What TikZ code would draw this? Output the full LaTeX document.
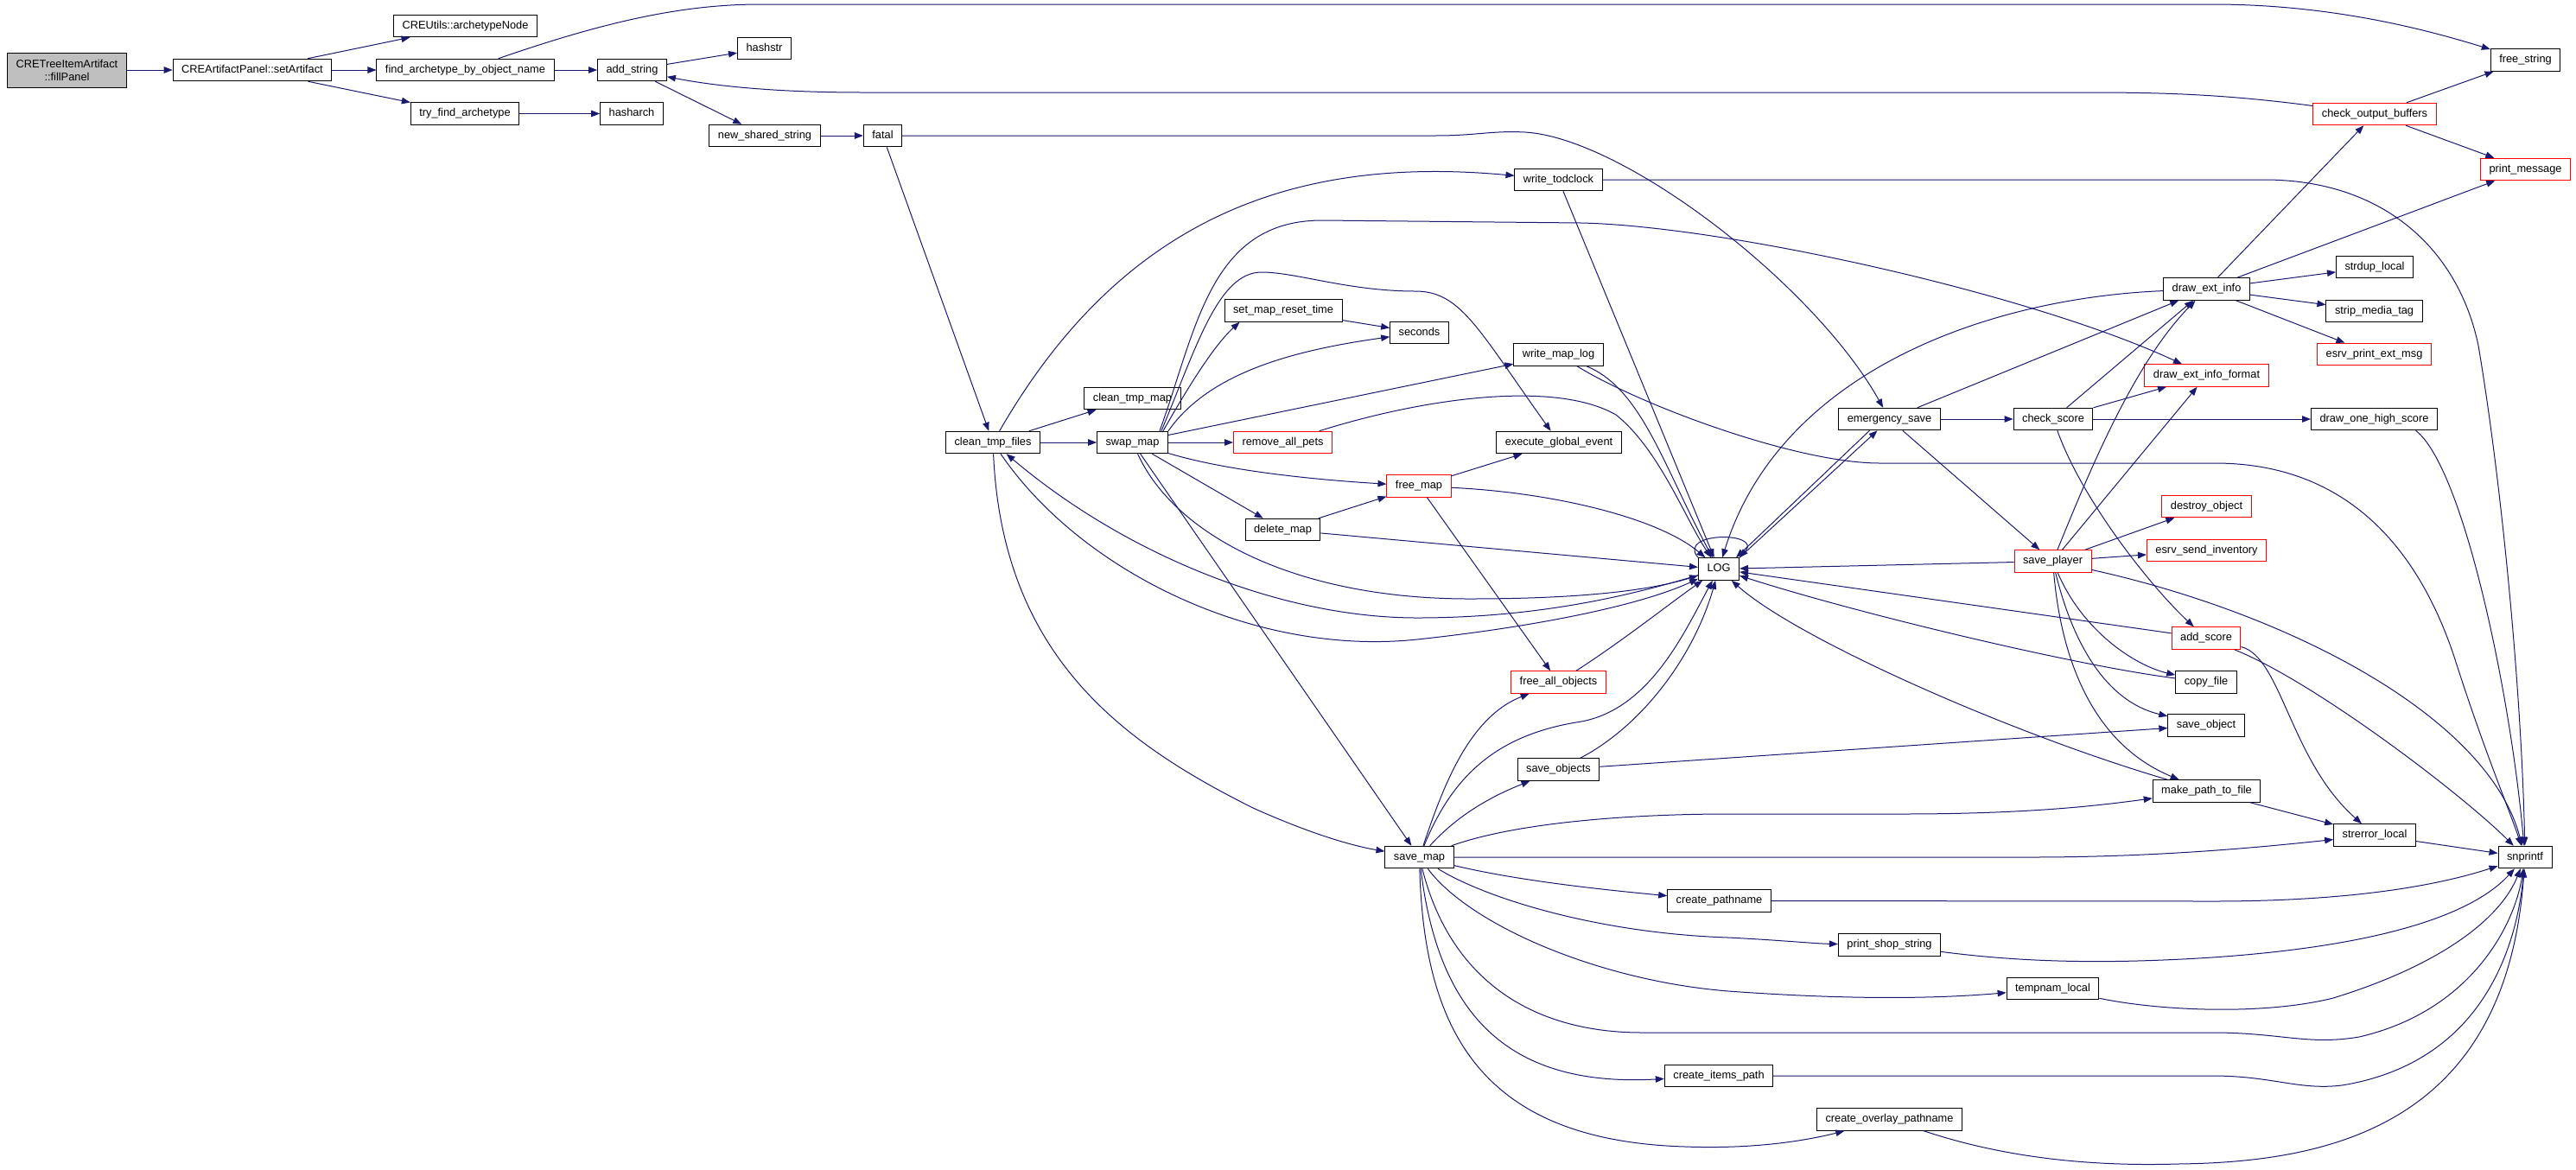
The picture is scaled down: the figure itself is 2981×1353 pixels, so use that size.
\documentclass[tikz,border=0pt]{standalone}
\usepackage{fontspec}
\setmainfont{Liberation Sans}
\usetikzlibrary{arrows.meta}
\definecolor{edgeblue}{HTML}{191970}
\tikzset{
  fn/.style={draw=black, line width=1pt, fill=white, font=\fontsize{12.8}{15}\selectfont,
    inner xsep=10pt, inner ysep=0pt, minimum height=25.5pt, text height=9.2pt, text depth=2.8pt},
  fnred/.style={fn, draw=red},
  mainfn/.style={draw=black, line width=1pt, fill=gray!50, font=\fontsize{12.8}{15}\selectfont,
    align=center, inner xsep=10pt, inner ysep=4pt, minimum height=40pt},
  call/.style={draw=edgeblue, line width=1pt, -{Triangle[length=10pt,width=7.5pt]}},
}
\begin{document}
\begin{tikzpicture}[x=1pt,y=-1pt]
\useasboundingbox (0,0) rectangle (2981,1353);
\node[mainfn] (fillpanel) at (77.5,81) {CRETreeItemArtifact\\::fillPanel};
\node[fn] (setart) at (292,81) {CREArtifactPanel::setArtifact};
\node[fn] (archnode) at (538.5,30) {CREUtils::archetypeNode};
\node[fn] (findarch) at (538.5,81) {find\_archetype\_by\_object\_name};
\node[fn] (tryfind) at (538,131.5) {try\_find\_archetype};
\node[fn] (addstr) at (731.5,81) {add\_string};
\node[fn] (hasharch) at (731,131.5) {hasharch};
\node[fn] (hashstr) at (884.5,56) {hashstr};
\node[fn] (newshared) at (885,157) {new\_shared\_string};
\node[fn] (fatal) at (1021.5,157) {fatal};
\node[fn] (cleanfiles) at (1149,512) {clean\_tmp\_files};
\node[fn] (cleanmap) at (1310.5,461) {clean\_tmp\_map};
\node[fn] (swapmap) at (1310.5,512) {swap\_map};
\node[fn] (setreset) at (1485,359.5) {set\_map\_reset\_time};
\node[fnred] (removepets) at (1484.5,512) {remove\_all\_pets};
\node[fn] (delmap) at (1484.5,613) {delete\_map};
\node[fn] (seconds) at (1642.5,385) {seconds};
\node[fnred] (freemap) at (1642,562.5) {free\_map};
\node[fn] (savemap) at (1642.5,992) {save\_map};
\node[fn] (writetod) at (1803.5,208) {write\_todclock};
\node[fn] (writemaplog) at (1803.5,410.5) {write\_map\_log};
\node[fn] (execglobal) at (1804,512) {execute\_global\_event};
\node[fnred] (freeall) at (1803.5,789.5) {free\_all\_objects};
\node[fn] (saveobjects) at (1803.5,890.5) {save\_objects};
\node[fn] (log) at (1989,658.5) {LOG};
\node[fn] (createpath) at (1989.5,1042.5) {create\_pathname};
\node[fn] (createitems) at (1989,1245) {create\_items\_path};
\node[fn] (emsave) at (2186.5,485) {emergency\_save};
\node[fn] (printshop) at (2186.5,1093.5) {print\_shop\_string};
\node[fn] (createoverlay) at (2186.5,1295.5) {create\_overlay\_pathname};
\node[fn] (checkscore) at (2376,485) {check\_score};
\node[fnred] (saveplayer) at (2375.5,649.5) {save\_player};
\node[fn] (tempnam) at (2375.5,1144) {tempnam\_local};
\node[fn] (drawext) at (2553.5,334.5) {draw\_ext\_info};
\node[fnred] (drawextfmt) at (2553.5,434.5) {draw\_ext\_info\_format};
\node[fnred] (destroy) at (2553.5,586) {destroy\_object};
\node[fnred] (esrvsend) at (2553.5,637) {esrv\_send\_inventory};
\node[fnred] (addscore) at (2553,738.5) {add\_score};
\node[fn] (copyfile) at (2553,789.5) {copy\_file};
\node[fn] (saveobject) at (2553,839.5) {save\_object};
\node[fn] (makepath) at (2553.5,915.5) {make\_path\_to\_file};
\node[fnred] (checkout) at (2748,132) {check\_output\_buffers};
\node[fn] (strdup) at (2748,309) {strdup\_local};
\node[fn] (stripmedia) at (2747.5,360) {strip\_media\_tag};
\node[fnred] (esrvprint) at (2747.5,410) {esrv\_print\_ext\_msg};
\node[fn] (drawone) at (2747.5,485) {draw\_one\_high\_score};
\node[fn] (strerror) at (2748,966.5) {strerror\_local};
\node[fn] (freestr) at (2922.5,69.5) {free\_string};
\node[fnred] (printmsg) at (2922.5,196) {print\_message};
\node[fn] (snprintf) at (2922,992) {snprintf};

\draw[call] (fillpanel) -- (setart);
\draw[call] (setart) -- (archnode);
\draw[call] (setart) -- (findarch);
\draw[call] (setart) -- (tryfind);
\draw[call] (findarch) -- (addstr);
\draw[call] (findarch) .. controls (700,25) and (790,5) .. (880,5) -- (2560,5) .. controls (2700,5) and (2810,35) .. (freestr);
\draw[call] (tryfind) -- (hasharch);
\draw[call] (addstr) -- (hashstr);
\draw[call] (addstr) -- (newshared);
\draw[call] (newshared) -- (fatal);
\draw[call] (checkout) .. controls (2560,107) and (2480,107) .. (2400,107) -- (1000,107) .. controls (900,107) and (830,100) .. (addstr);
\draw[call] (checkout) -- (freestr);
\draw[call] (checkout) -- (printmsg);
\draw[call] (fatal) -- (cleanfiles);
\draw[call] (fatal) -- (1660,157) .. controls (1710,157) and (1725,151) .. (1765,153) .. controls (1880,160) and (2100,330) .. (emsave);
\draw[call] (writetod) -- (2620,208) .. controls (2760,208) and (2845,290) .. (2868,400) .. controls (2895,560) and (2918,800) .. (snprintf);
\draw[call] (writetod) -- (log);
\draw[call] (cleanfiles) .. controls (1300,250) and (1500,180) .. (writetod);
\draw[call] (cleanfiles) -- (cleanmap);
\draw[call] (cleanfiles) -- (swapmap);
\draw[call] (cleanfiles) .. controls (1250,660) and (1450,760) .. (1640,740) .. controls (1780,725) and (1900,700) .. (log);
\draw[call] (log) .. controls (1900,685) and (1790,715) .. (1640,715) .. controls (1480,715) and (1300,640) .. (cleanfiles);
\draw[call] (cleanfiles) .. controls (1160,760) and (1300,860) .. (1450,935) .. controls (1510,962) and (1560,978) .. (savemap);
\draw[call] (swapmap) .. controls (1360,620) and (1500,693) .. (1700,693) .. controls (1850,693) and (1920,680) .. (log);
\draw[call] ([xshift=-6pt]swapmap.north east) .. controls (1385,430) and (1410,395) .. ([xshift=18pt]setreset.south west);
\draw[call] (swapmap.north east) .. controls (1400,430) and (1500,405) .. (seconds);
\draw[call] ([xshift=-8pt]swapmap.north east) .. controls (1385,400) and (1410,315) .. (1460,315) .. controls (1500,315) and (1560,337) .. (1638,337) .. controls (1690,337) and (1710,380) .. (execglobal);
\draw[call] ([xshift=-10pt]swapmap.north east) .. controls (1385,380) and (1400,255) .. (1530,255) -- (1830,258) .. controls (2000,262) and (2350,340) .. (drawextfmt);
\draw[call] (setreset) -- (seconds);
\draw[call] (swapmap) -- (writemaplog);
\draw[call] (swapmap) -- (removepets);
\draw[call] (swapmap) .. controls (1420,545) and (1520,555) .. (freemap);
\draw[call] (swapmap) -- (delmap);
\draw[call] (swapmap) -- (savemap);
\draw[call] (delmap) -- (freemap);
\draw[call] (delmap) -- (log);
\draw[call] (removepets) .. controls (1650,460) and (1800,440) .. (1870,480) .. controls (1920,520) and (1950,600) .. (log);
\draw[call] (freemap) -- (execglobal);
\draw[call] (freemap) .. controls (1800,570) and (1920,600) .. (log);
\draw[call] (freemap) -- (freeall);
\draw[call] (writemaplog) .. controls (1900,450) and (1925,540) .. (log);
\draw[call] (writemaplog) .. controls (1900,470) and (2080,536) .. (2175,536) -- (2563,536) .. controls (2720,536) and (2800,640) .. (2840,760) .. controls (2875,870) and (2905,940) .. (snprintf);
\draw[call] (freeall) .. controls (1880,740) and (1930,700) .. (log);
\draw[call] (savemap) .. controls (1670,910) and (1700,830) .. (freeall);
\draw[call] (savemap) .. controls (1680,900) and (1730,850) .. (1830,835) .. controls (1910,820) and (1950,730) .. (log);
\draw[call] (savemap) .. controls (1690,940) and (1730,920) .. (saveobjects);
\draw[call] (saveobjects) .. controls (1900,840) and (1960,760) .. (log);
\draw[call] (saveobjects) -- (saveobject);
\draw[call] (savemap) .. controls (1760,950) and (1900,942) .. (2000,942) -- (2200,942) .. controls (2350,942) and (2430,932) .. (makepath);
\draw[call] (savemap) -- (2350,992) .. controls (2500,992) and (2620,980) .. (strerror);
\draw[call] (savemap) .. controls (1760,1020) and (1860,1030) .. (createpath);
\draw[call] (savemap) .. controls (1720,1040) and (1850,1080) .. (2000,1085) .. controls (2060,1088) and (2100,1092) .. (printshop);
\draw[call] (savemap) .. controls (1700,1070) and (1850,1135) .. (2000,1147) .. controls (2150,1158) and (2250,1155) .. (tempnam);
\draw[call] (savemap) .. controls (1680,1140) and (1780,1195) .. (1900,1195) -- (2560,1195) .. controls (2640,1195) and (2670,1210) .. (2730,1200) .. controls (2860,1170) and (2910,1070) .. (snprintf);
\draw[call] (savemap) .. controls (1665,1180) and (1750,1258) .. (createitems);
\draw[call] (savemap) .. controls (1648,1200) and (1720,1320) .. (1950,1327) .. controls (2030,1330) and (2090,1320) .. (createoverlay);
\draw[call] (createpath) -- (2560,1043) .. controls (2720,1043) and (2820,1025) .. (snprintf);
\draw[call] (printshop) .. controls (2350,1115) and (2450,1115) .. (2560,1108) .. controls (2750,1095) and (2860,1060) .. (snprintf);
\draw[call] (tempnam) .. controls (2500,1170) and (2620,1175) .. (2700,1155) .. controls (2830,1115) and (2895,1060) .. (snprintf);
\draw[call] (createitems) -- (2560,1245) .. controls (2630,1245) and (2660,1262) .. (2710,1256) .. controls (2870,1230) and (2912,1100) .. (snprintf);
\draw[call] (createoverlay) .. controls (2320,1340) and (2420,1350) .. (2520,1347) .. controls (2700,1345) and (2900,1300) .. (snprintf);
\draw[call] (strerror) -- (snprintf);
\draw[call] (makepath) -- (strerror);
\draw[call] (makepath) .. controls (2330,850) and (2080,740) .. (log);
\draw[call] (copyfile) .. controls (2400,770) and (2150,710) .. (log);
\draw[call] (addscore) -- (log);
\draw[call] (saveplayer) -- (log);
\draw[call] ([xshift=-23pt]emsave.south) -- ([xshift=-4pt]log.north east);
\draw[call] (log.north east) -- ([xshift=-14pt]emsave.south);
\draw[call] (log.north west) .. controls (1940,615) and (2040,615) .. (log.north east);
\draw[call] (drawext) .. controls (2300,345) and (2060,430) .. (log);
\draw[call] (emsave) -- (checkscore);
\draw[call] (emsave) -- (saveplayer);
\draw[call] (emsave) -- (drawext);
\draw[call] (checkscore) -- (drawext);
\draw[call] (checkscore) -- (drawextfmt);
\draw[call] (checkscore) -- (drawone);
\draw[call] (checkscore) .. controls (2410,580) and (2490,680) .. (addscore);
\draw[call] (saveplayer) .. controls (2420,540) and (2470,420) .. (drawext);
\draw[call] (saveplayer) -- (drawextfmt);
\draw[call] (saveplayer) -- (destroy);
\draw[call] (saveplayer) -- (esrvsend);
\draw[call] (saveplayer) .. controls (2650,710) and (2880,830) .. (snprintf);
\draw[call] (saveplayer) .. controls (2410,730) and (2470,770) .. (copyfile);
\draw[call] (saveplayer) .. controls (2395,730) and (2430,810) .. (saveobject);
\draw[call] (saveplayer) .. controls (2385,760) and (2420,860) .. (makepath);
\draw[call] (addscore) .. controls (2640,760) and (2650,880) .. (strerror);
\draw[call] (addscore) .. controls (2680,790) and (2850,920) .. (snprintf);
\draw[call] ([xshift=48pt]drawone.south) .. controls (2850,540) and (2905,800) .. (snprintf);
\draw[call] (drawext) -- (checkout);
\draw[call] (drawext) -- (printmsg);
\draw[call] (drawext) -- (strdup);
\draw[call] (drawext) -- (stripmedia);
\draw[call] (drawext) -- (esrvprint);
\end{tikzpicture}
\end{document}
